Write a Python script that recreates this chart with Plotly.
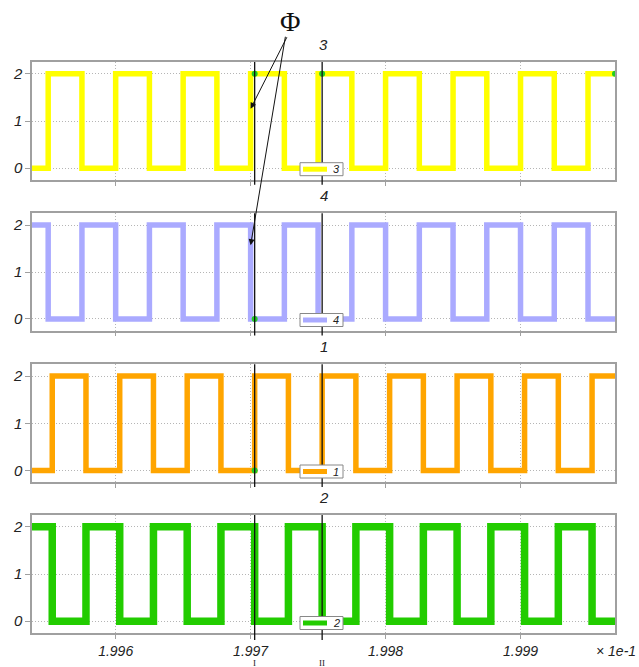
import plotly.graph_objects as go
from plotly.subplots import make_subplots

# ---- data (time in units of 1e-1 s) ----
t_a = [1.99538, 1.9955, 1.99575, 1.996, 1.99625, 1.9965, 1.99675, 1.997, 1.99725, 1.9975,
       1.99775, 1.998, 1.99825, 1.9985, 1.99875, 1.999, 1.99925, 1.9995, 1.9997]
sig3 = [0, 2, 0, 2, 0, 2, 0, 2, 0, 2, 0, 2, 0, 2, 0, 2, 0, 2, 2]
sig4 = [2, 0, 2, 0, 2, 0, 2, 0, 2, 0, 2, 0, 2, 0, 2, 0, 2, 0, 0]

t_b = [1.99538, 1.99553, 1.99578, 1.99603, 1.99628, 1.99653, 1.99678, 1.99703, 1.99728, 1.99753,
       1.99778, 1.99803, 1.99828, 1.99853, 1.99878, 1.99903, 1.99928, 1.99953, 1.9997]
sig1 = [0, 2, 0, 2, 0, 2, 0, 2, 0, 2, 0, 2, 0, 2, 0, 2, 0, 2, 2]
sig2 = [2, 0, 2, 0, 2, 0, 2, 0, 2, 0, 2, 0, 2, 0, 2, 0, 2, 0, 0]

panel_names = ["3", "4", "1", "2"]
panel_colors = ["#ffff00", "#aaaaff", "#ffa500", "#22cc00"]
panel_widths = [5.5, 5.5, 5.5, 7.5]

cursor_x = [1.99703, 1.99753]
cursor_labels = ["I", "II"]

# green marker points per panel
dots_x = [[1.99703, 1.99753, 1.9997], [1.99703], [1.99703], []]
dots_y = [[2, 2, 2], [0], [0], []]

x_ticks = [1.996, 1.997, 1.998, 1.999]
y_ticks = [0, 1, 2]

series_t = [t_a, t_a, t_b, t_b]
series_v = [sig3, sig4, sig1, sig2]

# ---- figure ----
W, H = 639, 667
ml, mr, mt, mb = 32, 24, 62, 34
pw = W - ml - mr
ph = H - mt - mb

def py(p):  # page y pixel -> paper
    return (H - mb - p) / ph

def pxp(p):  # page x pixel -> paper
    return (p - ml) / pw

domains = [(py(180), py(62)), (py(330.7), py(213.3)), (py(482.3), py(364.3)), (py(633), py(515))]
legend_top = [162.7, 313.5, 465, 616.5]

fig = make_subplots(rows=4, cols=1)

FONT = "Liberation Sans Narrow, Liberation Sans, Arial"
tickfont = dict(family=FONT, size=14, style="italic", color="#222")

for i in range(4):
    r = i + 1
    fig.add_trace(go.Scatter(
        x=series_t[i], y=series_v[i], mode="lines", line_shape="hv",
        line=dict(color=panel_colors[i], width=panel_widths[i]),
        name=panel_names[i], showlegend=False,
    ), row=r, col=1)
    if dots_x[i]:
        fig.add_trace(go.Scatter(
            x=dots_x[i], y=dots_y[i], mode="markers",
            marker=dict(color="#22cc22", size=6), showlegend=False,
        ), row=r, col=1)
    xa = "xaxis" if i == 0 else f"xaxis{r}"
    ya = "yaxis" if i == 0 else f"yaxis{r}"
    fig.layout[xa].update(
        domain=[0, 1], range=[1.99538, 1.9997], tickvals=x_ticks, tickformat=".3f",
        showticklabels=(i == 3), tickfont=tickfont, automargin=False,
        showgrid=True, gridcolor="#b5b5b5", griddash="1px,2px", gridwidth=1,
        showline=True, mirror=True, linecolor="#a0a0a0", linewidth=1.5,
        ticks="outside", ticklen=4, tickcolor="#a0a0a0", zeroline=False,
    )
    fig.layout[ya].update(
        domain=list(domains[i]), range=[-0.25, 2.25], tickvals=y_ticks,
        tickfont=dict(family=FONT, size=15, style="italic", color="#222"), automargin=False,
        showgrid=True, gridcolor="#b5b5b5", griddash="1px,2px", gridwidth=1,
        showline=True, mirror=True, linecolor="#a0a0a0", linewidth=1.5,
        ticks="outside", ticklen=5, tickcolor="#a0a0a0", zeroline=False,
    )
    xr = "x" if i == 0 else f"x{r}"
    yr = "y" if i == 0 else f"y{r}"
    # panel title
    fig.add_annotation(
        text=panel_names[i], xref=f"{xr} domain", yref=f"{yr} domain",
        x=0.5, y=1, yanchor="bottom", yshift=7, showarrow=False,
        font=dict(family=FONT, size=15, style="italic", color="#222"),
    )
    # cursors
    for cx in cursor_x:
        fig.add_shape(type="line", xref=xr, yref=f"{yr} domain",
                      x0=cx, x1=cx, y0=(-0.06 if i == 3 else -0.04), y1=1,
                      line=dict(color="#111", width=1.3))
    # legend box (drawn over the cursors)
    top = legend_top[i]
    fig.add_shape(type="rect", xref="paper", yref="paper",
                  x0=pxp(300), x1=pxp(343), y0=py(top + 13), y1=py(top),
                  fillcolor="white", line=dict(color="#888", width=1))
    fig.add_shape(type="line", xref="paper", yref="paper",
                  x0=pxp(303), x1=pxp(327), y0=py(top + 6.5), y1=py(top + 6.5),
                  line=dict(color=panel_colors[i], width=5))
    fig.add_annotation(text=panel_names[i], xref="paper", yref="paper",
                       x=pxp(336), y=py(top + 6.5), showarrow=False,
                       xanchor="center", yanchor="middle",
                       font=dict(family=FONT, size=11, style="italic", color="#222"))

for cx, lab in zip(cursor_x, cursor_labels):
    fig.add_annotation(text=lab, xref="x4", yref="paper", x=cx, y=py(662.5),
                       showarrow=False, xanchor="center", yanchor="middle",
                       font=dict(family="Liberation Serif, DejaVu Serif", size=9, color="#222"))

# multiplier label
fig.add_annotation(text="× 1e-1", xref="paper", yref="paper",
                   x=pxp(638), y=py(651), xanchor="right", yanchor="middle",
                   showarrow=False, font=dict(family=FONT, size=14, style="italic", color="#222"))

# Phi label with arrows
fig.add_annotation(text="Φ", xref="paper", yref="paper",
                   x=pxp(290), y=py(22), xanchor="center", yanchor="middle", showarrow=False,
                   font=dict(family="Liberation Serif, DejaVu Serif", size=28, color="#111"))
fig.add_annotation(text="", xref="x", yref="y", x=1.997, y=1.26,
                   ax=37, ay=-73, showarrow=True, arrowhead=2, arrowsize=1.2,
                   arrowwidth=1, arrowcolor="#111")
fig.add_annotation(text="", xref="x2", yref="y2", x=1.997, y=1.57,
                   ax=35, ay=-210, showarrow=True, arrowhead=2, arrowsize=1.2,
                   arrowwidth=1, arrowcolor="#111")

fig.update_layout(
    width=W, height=H, margin=dict(l=ml, r=mr, t=mt, b=mb, autoexpand=False),
    plot_bgcolor="white", paper_bgcolor="white", hovermode=False, showlegend=False,
)

# remove the browser's default 8px page margin so the figure fills the window exactly
fig.write_html("out.html", config={"displayModeBar": False},
               post_script="document.body.style.margin='0px';")
